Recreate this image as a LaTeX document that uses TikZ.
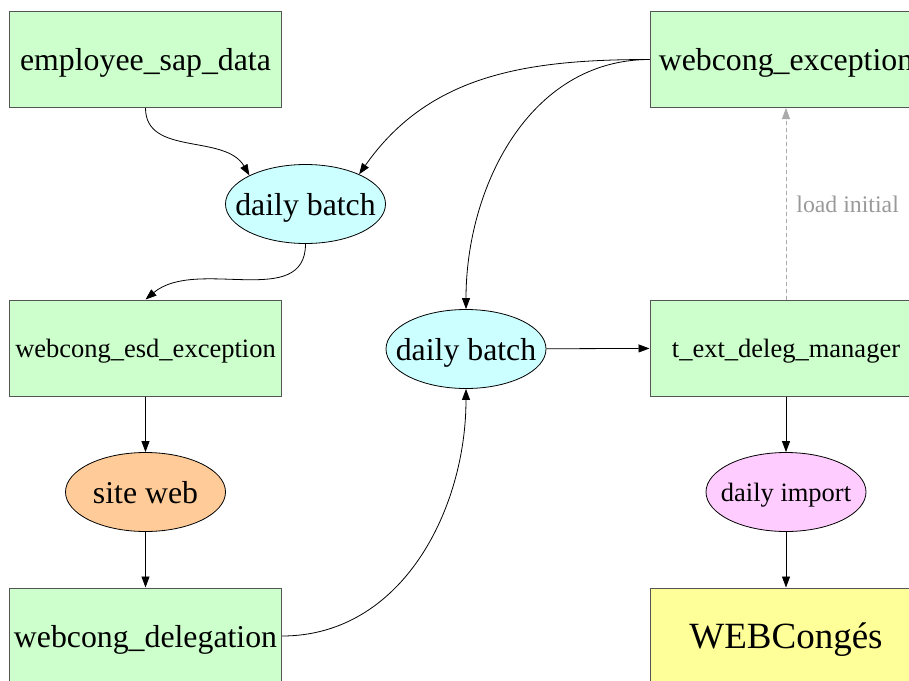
\documentclass[tikz,border=0pt]{standalone}
\usepackage{fontspec}
\setmainfont{Liberation Serif}
\usetikzlibrary{arrows.meta,shapes.geometric}

\definecolor{tablefill}{HTML}{CCFFCC}
\definecolor{tableline}{HTML}{555555}
\definecolor{batchfill}{HTML}{CCFFFF}
\definecolor{webfill}{HTML}{FFCC99}
\definecolor{importfill}{HTML}{FFCCFF}
\definecolor{appfill}{HTML}{FFFF99}
\definecolor{initline}{HTML}{AAAAAA}
\definecolor{inittext}{HTML}{999999}

\begin{document}
\begin{tikzpicture}[x=1pt,y=1pt,
  table/.style={draw=tableline,fill=tablefill,line width=1pt,minimum width=272pt,minimum height=96pt},
  job/.style={ellipse,draw,line width=0.8pt,fill=batchfill,inner xsep=-25pt,minimum width=160pt,minimum height=79pt},
  big/.style={font=\fontsize{31.8}{36}\selectfont},
  small/.style={font=\fontsize{26.5}{30}\selectfont},
  flow/.style={-{Triangle[length=11pt,width=8pt]},line width=0.8pt}]
\tikzstyle{every node}+=[inner sep=0pt,text depth=0pt]
\useasboundingbox (0,0) rectangle (909,-680);
% tables
\node[table,big] (emp) at (145.5,-59.5) {employee\_sap\_data};
\node[table,big] (exc) at (786,-59.5) {webcong\_exception};
\node[table,small] (esd) at (145.5,-348) {webcong\_esd\_exception};
\node[table,small] (mgr) at (786,-348) {t\_ext\_deleg\_manager};
\node[table,big] (deleg) at (145.5,-636) {webcong\_delegation};
\node[table,fill=appfill,font=\fontsize{37}{42}\selectfont] (app) at (786,-636) {WEBCongés};
% jobs
\node[job,big] (batch1) at (305.5,-204) {daily batch};
\node[job,big] (batch2) at (466,-349) {daily batch};
\node[job,big,fill=webfill] (site) at (145.5,-492) {site web};
\node[job,small,fill=importfill] (imp) at (786,-492) {daily import};
% flows
\draw[flow] (emp.south) to[out=-90,in=120] (batch1.153);
\draw[flow] (exc.west) to[out=180,in=55] (batch1.29);
\draw[flow] (exc.west) to[out=180,in=90] (batch2.north);
\draw[flow] (batch1.south) to[out=-90,in=40] (esd.north);
\draw[flow] (esd) -- (site);
\draw[flow] (site) -- (deleg);
\draw[flow] (deleg.east) to[out=0,in=-90] (batch2.south);
\draw[flow] (batch2) -- (mgr);
\draw[flow] (mgr) -- (imp);
\draw[flow] (imp) -- (app);
\draw[flow,draw=initline,fill=initline,dash pattern=on 4pt off 3pt] (mgr) -- (exc)
  node[midway,right=10pt,text=inittext,font=\fontsize{23.8}{28}\selectfont] {load initial};
\end{tikzpicture}
\end{document}
